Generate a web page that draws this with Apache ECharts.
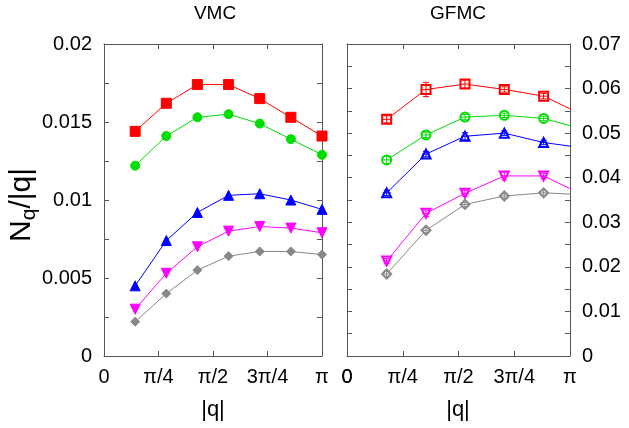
<!DOCTYPE html>
<html><head><meta charset="utf-8">
<script src="https://cdn.jsdelivr.net/npm/echarts@6/dist/echarts.min.js"></script>
<style>html,body{margin:0;padding:0;background:#fff}#c{width:629px;height:428px}</style>
</head><body><div id="c"></div>
<script>
// ---- data ----
const vmcQ = [0.449, 0.898, 1.346, 1.795, 2.244, 2.693, 3.142];
const vmcRed     = [0.0144, 0.0162, 0.0174, 0.0174, 0.0165, 0.0153, 0.0141];
const vmcGreen   = [0.0122, 0.0141, 0.0153, 0.0155, 0.0149, 0.0139, 0.0129];
const vmcBlue    = [0.0045, 0.0074, 0.0092, 0.0103, 0.0104, 0.0100, 0.0094];
const vmcMagenta = [0.0030, 0.0053, 0.0070, 0.0080, 0.0083, 0.0082, 0.0079];
const vmcGray    = [0.0022, 0.0040, 0.0055, 0.0064, 0.0067, 0.0067, 0.0065];

const gfmcQ = [0.559, 1.113, 1.662, 2.216, 2.770, 3.320];
const gfmcRed     = [0.0531, 0.0598, 0.0610, 0.0598, 0.0583, 0.0541];
const gfmcGreen   = [0.0440, 0.0496, 0.0536, 0.0540, 0.0533, 0.0509];
const gfmcBlue    = [0.0366, 0.0453, 0.0493, 0.0500, 0.0479, 0.0467];
const gfmcMagenta = [0.0213, 0.0320, 0.0365, 0.0404, 0.0404, 0.0362];
const gfmcGray    = [0.0184, 0.0282, 0.0340, 0.0359, 0.0366, 0.0362];
const gfmcRedErr     = [0.0008, 0.0016, 0.0009, 0.0006, 0.0006, 0.0006];
const gfmcGreenErr   = [0.0008, 0.0006, 0.0006, 0.0005, 0.0005, 0.0005];
const gfmcBlueErr    = [0.0006, 0.0006, 0.0008, 0.0005, 0.0005, 0.0005];
const gfmcMagentaErr = [0.0006, 0.0007, 0.0006, 0.0009, 0.0006, 0.0006];
const gfmcGrayErr    = [0.0006, 0.0006, 0.0005, 0.0005, 0.0005, 0.0005];

const xTickLabels = ['0', 'π/4', 'π/2', '3π/4', 'π'];
const vmcYLabels = ['0', '0.005', '0.01', '0.015', '0.02'];
const gfmcYLabels = ['0', '0.01', '0.02', '0.03', '0.04', '0.05', '0.06', '0.07'];

const colors = {red:'#ff0000', green:'#00dd00', blue:'#0000ff', magenta:'#ff00ff', gray:'#888888'};

// ---- chart ----
const FONT = 'Liberation Sans, Arial, sans-serif';
const axisCol = '#555';
const PI = Math.PI;
function xLab(v){ const i = Math.round(v/(PI/4)); return Math.abs(v - i*PI/4) < 1e-6 ? xTickLabels[i] : ''; }
function yLab(v, step, labels){ const i = Math.round(v/step); return Math.abs(v - i*step) < step*1e-4 ? (labels[i]||'') : ''; }

function xAx(grid, pos, show){
  return {type:'value', gridIndex:grid, position:pos, min:0, max:PI, interval:PI/4,
    axisLine:{show:true, onZero:false, lineStyle:{color:axisCol, width:1}},
    axisTick:{show:true, inside:true, length:5, lineStyle:{color:axisCol}},
    axisLabel:{show:show, margin:11, fontFamily:FONT, fontSize:20, color:'#000', formatter:xLab,
      hideOverlap:false, showMinLabel:true, showMaxLabel:true},
    splitLine:{show:false}};
}
function yAx(grid, pos, show, max, interval, step, labels){
  return {type:'value', gridIndex:grid, position:pos, min:0, max:max, interval:interval,
    axisLine:{show:true, onZero:false, lineStyle:{color:axisCol, width:1}},
    axisTick:{show:true, inside:true, length:5, lineStyle:{color:axisCol}},
    axisLabel:{show:show, margin:12, fontFamily:FONT, fontSize:20, color:'#000', formatter:v=>yLab(v, step, labels),
      hideOverlap:false, showMinLabel:true, showMaxLabel:true},
    splitLine:{show:false}};
}

function pts(xs, ys){ return ys.map((y,i)=>[xs[i], y]); }

function lineSeries(xi, yi, xs, ys, color, symbol, size, rotate){
  return {type:'line', xAxisIndex:xi, yAxisIndex:yi, data:pts(xs, ys), clip:true,
    symbol:symbol, symbolSize:size, symbolRotate:rotate||0, showAllSymbol:true,
    lineStyle:{color:color, width:1}, itemStyle:{color:color, borderColor:color, borderWidth:1},
    animation:false, z:3};
}
function errSeries(xi, yi, xs, ys, es, color){
  return {type:'custom', xAxisIndex:xi, yAxisIndex:yi, clip:true, animation:false, z:4,
    data: ys.map((y,i)=>[xs[i], y-es[i], y+es[i], y]),
    renderItem:function(params, api){
      const lo = api.coord([api.value(0), api.value(1)]);
      const hi = api.coord([api.value(0), api.value(2)]);
      const c = api.coord([api.value(0), api.value(3)]);
      const w = 3;
      const st = {stroke:color, lineWidth:1, fill:null};
      return {type:'group', children:[
        {type:'line', shape:{x1:lo[0], y1:lo[1], x2:hi[0], y2:hi[1]}, style:st},
        {type:'line', shape:{x1:lo[0]-w, y1:lo[1], x2:lo[0]+w, y2:lo[1]}, style:st},
        {type:'line', shape:{x1:hi[0]-w, y1:hi[1], x2:hi[0]+w, y2:hi[1]}, style:st},
        {type:'line', shape:{x1:c[0]-4, y1:c[1], x2:c[0]+4, y2:c[1]}, style:st}
      ]};
    }};
}

const chart = echarts.init(document.getElementById('c'), null, {renderer:'canvas'});
const option = {
  backgroundColor:'#fff',
  animation:false,
  grid:[
    {left:104, top:44, width:218, height:312},
    {left:347, top:44, width:223, height:312}
  ],
  xAxis:[
    xAx(0,'bottom',true), xAx(0,'top',false),
    xAx(1,'bottom',true), xAx(1,'top',false)
  ],
  yAxis:[
    yAx(0,'left',true,0.02,0.0025,0.005,vmcYLabels), yAx(0,'right',false,0.02,0.0025,0.005,vmcYLabels),
    yAx(1,'right',true,0.07,0.005,0.01,gfmcYLabels), yAx(1,'left',false,0.07,0.005,0.01,gfmcYLabels)
  ],
  series:[
    lineSeries(0,0,vmcQ,vmcRed,colors.red,'rect',10),
    lineSeries(0,0,vmcQ,vmcGreen,colors.green,'circle',9),
    lineSeries(0,0,vmcQ,vmcBlue,colors.blue,'triangle',10),
    lineSeries(0,0,vmcQ,vmcMagenta,colors.magenta,'triangle',10,180),
    lineSeries(0,0,vmcQ,vmcGray,colors.gray,'diamond',9),

    lineSeries(2,2,gfmcQ,gfmcRed,colors.red,'emptyRect',9),
    lineSeries(2,2,gfmcQ,gfmcGreen,colors.green,'emptyCircle',9),
    lineSeries(2,2,gfmcQ,gfmcBlue,colors.blue,'emptyTriangle',9),
    lineSeries(2,2,gfmcQ,gfmcMagenta,colors.magenta,'emptyTriangle',9,180),
    lineSeries(2,2,gfmcQ,gfmcGray,colors.gray,'emptyDiamond',9),
    errSeries(2,2,gfmcQ,gfmcRed,gfmcRedErr,colors.red),
    errSeries(2,2,gfmcQ,gfmcGreen,gfmcGreenErr,colors.green),
    errSeries(2,2,gfmcQ,gfmcBlue,gfmcBlueErr,colors.blue),
    errSeries(2,2,gfmcQ,gfmcMagenta,gfmcMagentaErr,colors.magenta),
    errSeries(2,2,gfmcQ,gfmcGray,gfmcGrayErr,colors.gray)
  ],
  graphic:[
    {type:'text', x:215, y:14, style:{text:'VMC', fontFamily:FONT, fontSize:19, fill:'#000', align:'center', verticalAlign:'middle'}},
    {type:'text', x:458, y:14, style:{text:'GFMC', fontFamily:FONT, fontSize:19, fill:'#000', align:'center', verticalAlign:'middle'}},
    {type:'text', x:347, y:367, style:{text:xTickLabels[0], fontFamily:FONT, fontSize:20, fill:'#000', align:'center', verticalAlign:'top'}},
    {type:'text', x:213, y:410, style:{text:'|q|', fontFamily:FONT, fontSize:22, fill:'#000', align:'center', verticalAlign:'middle'}},
    {type:'text', x:458, y:410, style:{text:'|q|', fontFamily:FONT, fontSize:22, fill:'#000', align:'center', verticalAlign:'middle'}},
    {type:'group', x:22, y:205, rotation:Math.PI/2, children:[
      {type:'text', x:-37, y:0, style:{text:'N', fontFamily:FONT, fontSize:30, fill:'#000', align:'left', verticalAlign:'middle'}},
      {type:'text', x:-15.3, y:7, style:{text:'q', fontFamily:FONT, fontSize:21, fill:'#000', align:'left', verticalAlign:'middle'}},
      {type:'text', x:-3.6, y:0, style:{text:'/|q|', fontFamily:FONT, fontSize:30, fill:'#000', align:'left', verticalAlign:'middle'}}
    ]}
  ]
};
chart.setOption(option);
</script>
</body></html>
